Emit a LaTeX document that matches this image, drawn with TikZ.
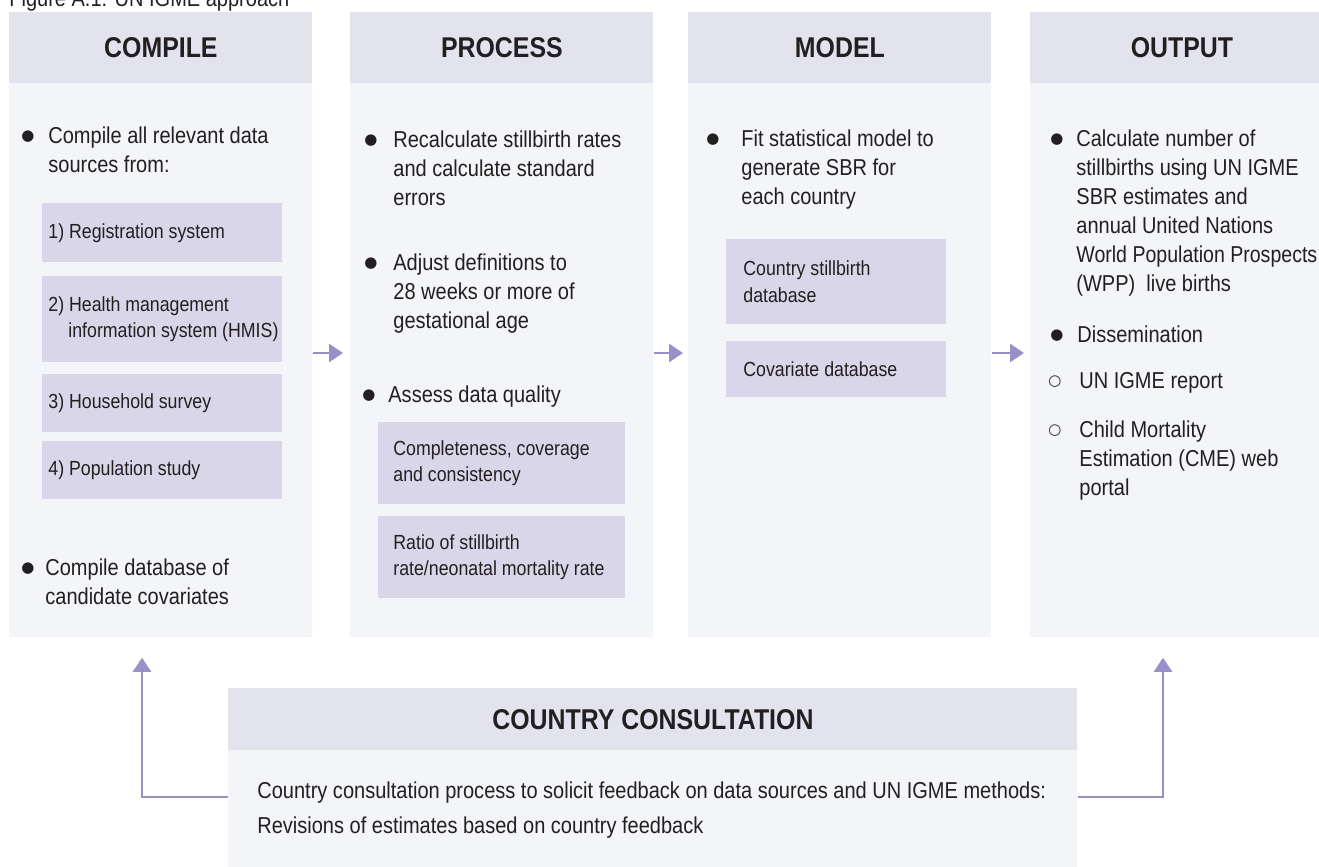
\documentclass[tikz,border=0pt]{standalone}
\usepackage{fontspec}
\setmainfont{Liberation Sans}[FakeStretch=0.87]
\newfontfamily\symfont{DejaVu Sans}
\newfontfamily\tightfont{Liberation Sans}[FakeStretch=0.85]
\usepackage{xcolor}
\usepackage{tikz}
\usetikzlibrary{positioning, arrows.meta}
\definecolor{headgray}{RGB}{227,227,238}
\definecolor{bodygray}{RGB}{244,245,248}
\definecolor{subfill}{RGB}{217,214,234}
\definecolor{arrowc}{RGB}{155,143,200}
\definecolor{textc}{RGB}{35,31,32}
\newcommand{\firstline}{\rule{0pt}{11pt}}
\tikzstyle{headbox} = [anchor=north west, fill=headgray, minimum width=151.5pt, minimum height=35.5pt, inner sep=0pt, text=textc, font=\fontsize{14.3}{17}\selectfont\bfseries]
\tikzstyle{colbody} = [anchor=north west, fill=bodygray, minimum width=151.5pt, minimum height=277pt, inner sep=0pt]
\tikzstyle{subbox} = [anchor=north west, fill=subfill, inner sep=0pt]
\tikzstyle{txt} = [anchor=north west, align=left, inner sep=0pt, text=textc, font=\fontsize{11.5}{14.5}\selectfont]
\tikzstyle{boxtxt} = [align=left, inner sep=0pt, text=textc, font=\fontsize{10.2}{13.2}\selectfont]
\tikzstyle{dot} = [anchor=base, inner sep=0pt, yshift=1.5pt, text=textc, font=\symfont\fontsize{7.5}{8}\selectfont]
\tikzstyle{flow} = [line width=1.4pt, draw=arrowc, -{Triangle[length=7pt, width=9pt]}]

\begin{document}
\begin{tikzpicture}[x=0.5pt, y=-0.5pt]
    \useasboundingbox (0,0) rectangle (1319,867);
    \node[txt, anchor=base west] (title) at (9,6) {Figure A.1: UN IGME approach};

    % columns
    \node[headbox] (compileHd) at (9,12) {COMPILE};
    \node[colbody] (compile) at (9,83) {};
    \node[headbox] (processHd) at (350,12) {PROCESS};
    \node[colbody] (process) at (350,83) {};
    \node[headbox] (modelHd) at (688,12) {MODEL};
    \node[colbody] (model) at (688,83) {};
    \node[headbox] (outputHd) at (1030,12) {OUTPUT};
    \node[colbody] (output) at (1030,83) {};

    % compile
    \node[dot] (c1dot) at (28,143) {●};
    \node[txt] (c1txt) at (48,121) {\firstline Compile all relevant data\\sources from:};
    \node[subbox, minimum width=120pt, minimum height=29.5pt] (reg) at (42,203) {};
    \node[boxtxt, right=3pt of reg.west] (regtxt) {1) Registration system};
    \node[subbox, minimum width=120pt, minimum height=43pt] (hmis) at (42,276) {};
    \node[boxtxt, right=3pt of hmis.west] (hmistxt) {2) Health management\\\hspace*{10pt}information system (HMIS)};
    \node[subbox, minimum width=120pt, minimum height=29pt] (survey) at (42,374) {};
    \node[boxtxt, right=3pt of survey.west] (surveytxt) {3) Household survey};
    \node[subbox, minimum width=120pt, minimum height=29pt] (popstudy) at (42,441) {};
    \node[boxtxt, right=3pt of popstudy.west] (popstudytxt) {4) Population study};
    \node[dot] (c2dot) at (28,575) {●};
    \node[txt] (c2txt) at (45,553) {\firstline Compile database of\\candidate covariates};

    % process
    \node[dot] (p1dot) at (371,147) {●};
    \node[txt] (p1txt) at (393,125) {\firstline Recalculate stillbirth rates\\and calculate standard\\errors};
    \node[dot] (p2dot) at (371,270) {●};
    \node[txt] (p2txt) at (393,248) {\firstline Adjust definitions to\\28 weeks or more of\\gestational age};
    \node[dot] (p3dot) at (369,402) {●};
    \node[txt] (p3txt) at (388,380) {\firstline Assess data quality};
    \node[subbox, minimum width=123.5pt, minimum height=41pt] (quality) at (378,422) {};
    \node[boxtxt, right=7.5pt of quality.west] (qualitytxt) {Completeness, coverage\\and consistency};
    \node[subbox, minimum width=123.5pt, minimum height=41pt] (ratio) at (378,516) {};
    \node[boxtxt, right=7.5pt of ratio.west] (ratiotxt) {Ratio of stillbirth\\rate/neonatal mortality rate};

    % model
    \node[dot] (m1dot) at (713,146) {●};
    \node[txt] (m1txt) at (741,124) {\firstline Fit statistical model to\\generate SBR for\\each country};
    \node[subbox, minimum width=110pt, minimum height=42.5pt] (sbdb) at (726,239) {};
    \node[boxtxt, right=8.5pt of sbdb.west] (sbdbtxt) {Country stillbirth\\database};
    \node[subbox, minimum width=110pt, minimum height=28pt] (covdb) at (726,341) {};
    \node[boxtxt, right=8.5pt of covdb.west] (covdbtxt) {Covariate database};

    % output
    \node[dot] (o1dot) at (1057,146) {●};
    \node[txt] (o1txt) at (1076,124) {\firstline Calculate number of\\stillbirths using UN IGME\\SBR estimates and\\annual United Nations\\{\tightfont World Population Prospects}\\(WPP)\ \ live births};
    \node[dot] (o2dot) at (1057,342) {●};
    \node[txt] (o2txt) at (1077,320) {\firstline Dissemination};
    \node[dot] (o3dot) at (1055,388) {○};
    \node[txt] (o3txt) at (1079,366) {\firstline UN IGME report};
    \node[dot] (o4dot) at (1055,437) {○};
    \node[txt] (o4txt) at (1079,415) {\firstline Child Mortality\\Estimation (CME) web\\portal};

    % consultation
    \node[headbox, minimum width=424.5pt, minimum height=31pt] (consultHd) at (228,688) {COUNTRY CONSULTATION};
    \node[colbody, minimum width=424.5pt, minimum height=60pt] (consult) at (228,750) {};
    \node[txt, font=\fontsize{11.5}{17.5}\selectfont] (consulttxt) at (257,776) {\firstline Country consultation process to solicit feedback on data sources and UN IGME methods:\\Revisions of estimates based on country feedback};

    % arrows
    \draw[flow, shorten >=3.5pt] (compile.east |- 0,353) -- (process.west |- 0,353);
    \draw[flow, shorten >=2.5pt] (process.east |- 0,353) -- (model.west |- 0,353);
    \draw[flow, shorten >=3pt] (model.east |- 0,353) -- (output.west |- 0,353);
    \draw[flow, shorten >=10pt] (consult.west |- 0,797) -| (compile.south -| 142,0);
    \draw[flow, shorten >=10pt] (consult.east |- 0,797) -| (output.south -| 1163,0);
\end{tikzpicture}
\end{document}
